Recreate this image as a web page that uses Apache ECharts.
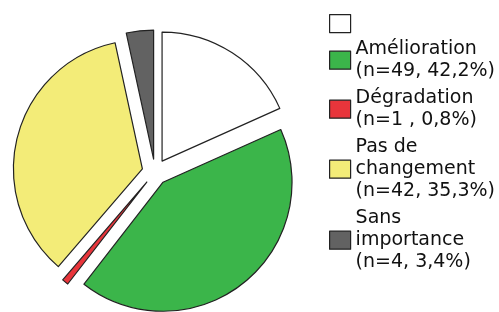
<!DOCTYPE html>
<html>
<head>
<meta charset="utf-8">
<script src="https://cdn.jsdelivr.net/npm/echarts@6/dist/echarts.min.js"></script>
<style>
  html, body { margin: 0; padding: 0; background: #fff; }
  #chart { width: 499px; height: 312px; }
</style>
</head>
<body>
<div id="chart"></div>
<script>
// categories and their shares (percent), as printed in the legend
var categories = [' ', 'Amélioration', 'Dégradation', 'Pas de changement', 'Sans importance'];
var percents = [18.3, 42.2, 0.8, 35.3, 3.4];
var legendLabels = [
  '',
  'Amélioration\n(n=49, 42,2%)',
  'Dégradation\n(n=1 , 0,8%)',
  'Pas de\nchangement\n(n=42, 35,3%)',
  'Sans\nimportance\n(n=4, 3,4%)'
];
var colors = ['#ffffff', '#3bb54a', '#e8353b', '#f3ec78', '#626262'];

var pieData = categories.map(function (c, i) {
  return { name: c, value: percents[i], selected: true, itemStyle: { color: colors[i] } };
});

var chart = echarts.init(document.getElementById('chart'));
chart.setOption({
  animation: false,
  legend: {
    orient: 'vertical',
    left: 329,
    top: 14,
    padding: 0,
    itemWidth: 21,
    itemHeight: 18,
    itemGap: 5,
    selectedMode: false,
    icon: 'rect',
    itemStyle: { borderColor: '#222', borderWidth: 1.2 },
    textStyle: { fontFamily: 'DejaVu Sans', fontSize: 19, lineHeight: 22, color: '#111' },
    formatter: function (name) {
      return legendLabels[categories.indexOf(name)];
    },
    data: categories
  },
  series: [{
    type: 'pie',
    center: [155, 172],
    radius: 129,
    startAngle: 90,
    clockwise: true,
    selectedMode: 'multiple',
    selectedOffset: 13,
    label: { show: false },
    labelLine: { show: false },
    emphasis: { disabled: true },
    itemStyle: { borderColor: '#222', borderWidth: 1.2 },
    data: pieData
  }]
});
</script>
</body>
</html>
